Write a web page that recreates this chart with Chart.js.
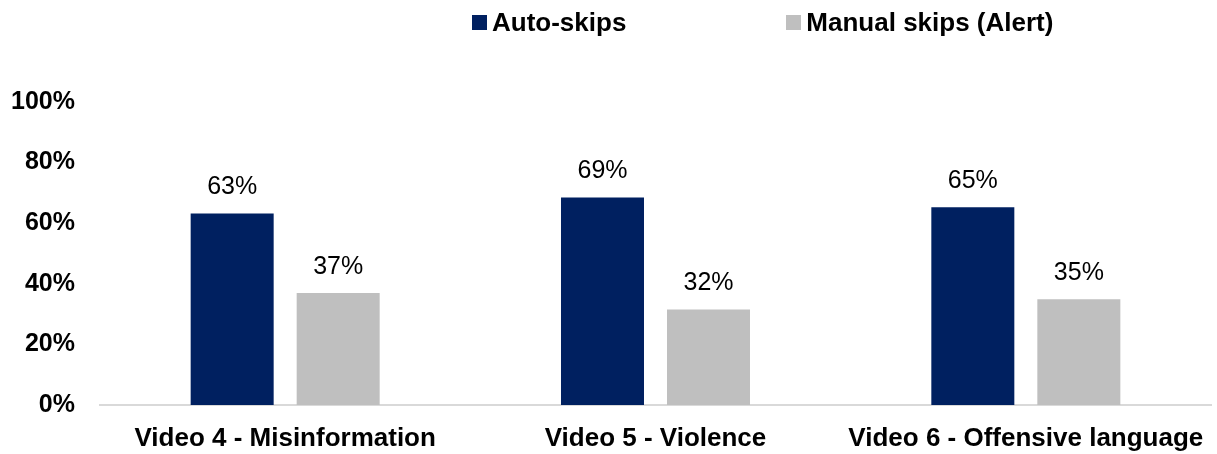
<!DOCTYPE html>
<html>
<head>
<meta charset="utf-8">
<script src="https://cdn.jsdelivr.net/npm/chart.js@4"></script>
<style>
  html, body { margin: 0; padding: 0; background: #fff; }
  #wrap { position: relative; width: 1217px; height: 454px; }
  #legend {
    position: absolute; left: 472px; top: 7px;
    display: flex; gap: 160px;
    font: bold 26px "Liberation Sans", Arial, sans-serif; color: #000;
  }
  #legend .item { display: flex; align-items: center; }
  #legend .box { width: 15px; height: 15px; margin-right: 5px; }
</style>
</head>
<body>
<div id="wrap">
  <canvas id="chart" width="1217" height="454"></canvas>
  <div id="legend"></div>
</div>
<script>
// Data
const categories = ["Video 4 - Misinformation", "Video 5 - Violence", "Video 6 - Offensive language"];
const autoSkips = [63.2, 68.5, 65.3];
const manualSkips = [37.0, 31.5, 34.9];
const seriesNames = ["Auto-skips", "Manual skips (Alert)"];
const seriesColors = ["#002060", "#BFBFBF"];

const FONT = '"Liberation Sans", Arial, sans-serif';

// Value labels above bars
const valueLabels = {
  id: "valueLabels",
  afterDatasetsDraw(chart) {
    const { ctx } = chart;
    ctx.save();
    ctx.font = "25px " + FONT;
    ctx.fillStyle = "#000";
    ctx.textAlign = "center";
    ctx.textBaseline = "middle";
    chart.data.datasets.forEach((ds, i) => {
      chart.getDatasetMeta(i).data.forEach((bar, j) => {
        ctx.fillText(Math.round(ds.data[j]) + "%", bar.x, bar.y - 26);
      });
    });
    ctx.restore();
  },
};

const chart = new Chart(document.getElementById("chart"), {
  type: "bar",
  data: {
    labels: categories,
    datasets: [
      { label: seriesNames[0], data: autoSkips, backgroundColor: seriesColors[0] },
      { label: seriesNames[1], data: manualSkips, backgroundColor: seriesColors[1] },
    ],
  },
  options: {
    responsive: false,
    animation: false,
    layout: { padding: { top: 102, right: 6, left: 0, bottom: 0 } },
    datasets: { bar: { categoryPercentage: 0.5725, barPercentage: 0.783 } },
    plugins: { legend: { display: false }, tooltip: { enabled: false } },
    scales: {
      x: {
        grid: { display: false },
        border: { color: "#D9D9D9", width: 2 },
        ticks: { color: "#000", font: { family: FONT, size: 26, weight: "bold" }, padding: 10, maxRotation: 0 },
        afterFit(s) { s.height = 49; },
      },
      y: {
        min: 0,
        max: 100,
        grid: { display: false, drawTicks: false },
        border: { display: false },
        ticks: {
          stepSize: 20,
          padding: 25,
          color: "#000",
          font: { family: FONT, size: 25, weight: "bold" },
          callback: (v) => v + "%",
        },
        afterFit(s) { s.width = 100; },
      },
    },
  },
  plugins: [valueLabels],
});

// HTML legend built from the datasets
const legend = document.getElementById("legend");
chart.data.datasets.forEach((ds) => {
  const item = document.createElement("div");
  item.className = "item";
  item.innerHTML = `<span class="box" style="background:${ds.backgroundColor}"></span><span>${ds.label}</span>`;
  legend.appendChild(item);
});
</script>
</body>
</html>
